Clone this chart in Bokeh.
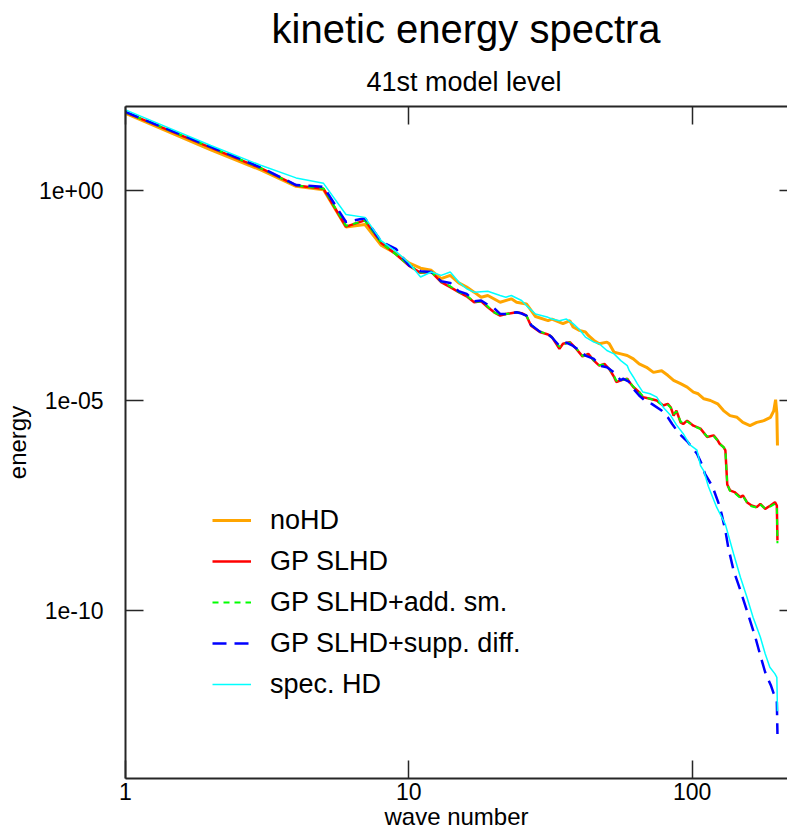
from bokeh.plotting import figure
from bokeh.models import (LogAxis, FixedTicker, CustomJSTickFormatter, Title,
                          Legend, LegendItem, Range1d)
from bokeh.embed import file_html
from bokeh.resources import INLINE

# ---------------- data (wave number, log10 of energy) ----
nohd_k = [1, 2, 3, 4, 5, 6, 7, 8, 9, 10, 11, 12, 13, 14, 15, 16, 17, 18, 19, 21,
          23, 24, 26, 28, 31, 32, 35, 37, 38, 40, 42, 43, 45, 47, 50, 51, 53, 56,
          59, 62, 65, 69, 73, 78, 82, 86, 91, 96, 101, 105, 110, 116, 123, 129,
          136, 144, 151, 160, 169, 179, 189, 194, 197, 199, 200]
nohd_log10e = [1.84, 0.97, 0.49, 0.10, 0.02, -0.87, -0.81, -1.31, -1.50, -1.72,
               -1.85, -1.90, -2.10, -2.02, -2.20, -2.30, -2.42, -2.54, -2.50,
               -2.66, -2.58, -2.66, -2.70, -3.00, -3.10, -3.06, -3.17, -3.10,
               -3.25, -3.33, -3.37, -3.45, -3.57, -3.65, -3.61, -3.65, -3.85,
               -3.89, -3.93, -4.01, -4.13, -4.21, -4.33, -4.29, -4.40, -4.52,
               -4.60, -4.68, -4.80, -4.84, -4.96, -5.00, -5.08, -5.24, -5.36,
               -5.40, -5.52, -5.60, -5.52, -5.48, -5.40, -5.25, -4.98, -5.30,
               -6.07]

slhd_k = [1, 2, 3, 4, 5, 6, 7, 8, 9, 10, 11, 12, 13, 14, 15, 16, 17, 18, 19, 20,
          21, 22, 24, 25, 26, 27, 29, 31, 32, 34, 35, 37, 39, 41, 43, 45, 47, 49,
          51, 53, 54, 56, 59, 60, 62, 65, 67, 71, 75, 79, 82, 84, 86, 88, 91, 93,
          96, 101, 107, 113, 119, 123, 125, 129, 131, 133, 136, 141, 148, 151,
          156, 162, 169, 174, 181, 189, 196, 199, 200]
slhd_log10e = [1.86, 1.02, 0.53, 0.12, 0.04, -0.86, -0.71, -1.25, -1.52, -1.79,
               -1.96, -1.94, -2.18, -2.30, -2.42, -2.52, -2.66, -2.64, -2.78,
               -2.90, -2.98, -2.94, -2.90, -2.92, -2.98, -3.22, -3.37, -3.43,
               -3.49, -3.77, -3.65, -3.61, -3.77, -3.95, -3.89, -4.05, -4.17,
               -4.13, -4.25, -4.44, -4.56, -4.52, -4.48, -4.56, -4.68, -4.80,
               -4.92, -4.96, -5.00, -5.12, -5.08, -5.16, -5.36, -5.24, -5.52,
               -5.56, -5.48, -5.60, -5.67, -5.87, -5.83, -5.95, -6.03, -6.11,
               -6.19, -7.00, -7.14, -7.18, -7.30, -7.26, -7.42, -7.50, -7.54,
               -7.46, -7.58, -7.50, -7.42, -7.50, -8.33]

addsm_k = slhd_k
addsm_log10e = [1.86, 1.03, 0.53, 0.12, 0.05, -0.84, -0.72, -1.25, -1.52, -1.78,
                -1.95, -1.94, -2.17, -2.28, -2.42, -2.50, -2.65, -2.64, -2.76,
                -2.90, -2.97, -2.94, -2.90, -2.92, -2.98, -3.20, -3.36, -3.42,
                -3.49, -3.72, -3.66, -3.62, -3.76, -3.94, -3.90, -4.05, -4.16,
                -4.14, -4.25, -4.42, -4.53, -4.52, -4.49, -4.56, -4.67, -4.80,
                -4.90, -4.96, -5.01, -5.12, -5.10, -5.17, -5.32, -5.26, -5.50,
                -5.55, -5.50, -5.60, -5.68, -5.86, -5.84, -5.95, -6.03, -6.11,
                -6.17, -7.00, -7.15, -7.20, -7.32, -7.28, -7.42, -7.52, -7.55,
                -7.48, -7.57, -7.52, -7.46, -7.52, -8.40]

suppdiff_k = [1, 2, 3, 4, 5, 6, 7, 8, 9, 10, 11, 12, 13, 14, 15, 16, 17, 18, 19,
              20, 21, 22, 24, 25, 26, 27, 29, 31, 32, 34, 36, 38, 40, 42, 45, 47,
              50, 53, 56, 57, 60, 62, 65, 69, 72, 78, 82, 85, 90, 96, 100, 104,
              108, 111, 118, 124, 127, 131, 134, 140, 148, 158, 167, 174, 181,
              190, 194, 199, 200]
suppdiff_log10e = [1.87, 1.04, 0.55, 0.13, 0.09, -0.75, -0.66, -1.22, -1.39,
                   -1.78, -1.92, -1.94, -2.16, -2.20, -2.40, -2.46, -2.64, -2.62,
                   -2.72, -2.80, -2.94, -2.94, -2.90, -2.93, -2.98, -3.20, -3.36,
                   -3.42, -3.50, -3.70, -3.62, -3.70, -3.81, -3.93, -4.01, -4.17,
                   -4.21, -4.33, -4.52, -4.48, -4.56, -4.72, -4.88, -5.04, -5.08,
                   -5.24, -5.40, -5.56, -5.79, -5.97, -6.12, -6.27, -6.51, -6.75,
                   -7.05, -7.45, -7.70, -8.10, -8.49, -9.05, -9.52, -10.12,
                   -10.63, -11.07, -11.47, -11.80, -11.98, -12.18, -12.94]

spechd_k = [1, 2, 3, 4, 5, 6, 7, 8, 9, 10, 11, 12, 13, 14, 15, 16, 17, 19, 21,
            22, 23, 25, 26, 28, 31, 32, 34, 36, 38, 40, 42, 45, 47, 50, 53, 56,
            59, 60, 62, 64, 67, 71, 75, 79, 84, 88, 93, 98, 104, 107, 110, 114,
            122, 131, 140, 148, 156, 164, 174, 181, 188, 196, 199, 200]
spechd_log10e = [1.92, 1.07, 0.60, 0.30, 0.17, -0.57, -0.64, -1.20, -1.45, -1.72,
                 -2.06, -1.94, -2.02, -1.94, -2.18, -2.34, -2.42, -2.40, -2.50,
                 -2.54, -2.50, -2.62, -2.74, -2.94, -3.02, -3.06, -3.10, -3.06,
                 -3.17, -3.31, -3.49, -3.61, -3.65, -3.81, -3.89, -4.05, -4.17,
                 -4.29, -4.44, -4.60, -4.80, -4.84, -4.92, -5.16, -5.36, -5.58,
                 -5.79, -6.05, -6.18, -6.55, -6.68, -7.04, -7.54, -7.95, -8.65,
                 -9.21, -9.68, -10.16, -10.63, -11.03, -11.35, -11.51, -11.59,
                 -12.40]

series_names = ["noHD", "GP SLHD", "GP SLHD+add. sm.", "GP SLHD+supp. diff.", "spec. HD"]

x_tick_values = [1, 10, 100]
x_tick_labels = ["1", "10", "100"]
y_tick_values = [1e-10, 1e-05, 1e+00]
y_tick_labels = ["1e-10", "1e-05", "1e+00"]

title_text = "kinetic energy spectra"
subtitle_text = "41st model level"
x_label = "wave number"
y_label = "energy"

# ---------------- figure ---------------------------------------------------
FONT = "Liberation Sans"
AX = "#262626"
X_END = 217

p = figure(width=787, height=832, x_axis_type="log", y_axis_type="log",
           x_range=Range1d(1, X_END), y_range=Range1d(1e-14, 1e2),
           output_backend="svg", toolbar_location=None,
           min_border_left=118, min_border_right=0, min_border_top=0,
           min_border_bottom=0)
p.grid.visible = False
p.outline_line_color = None
p.background_fill_color = "white"
p.border_fill_color = "white"


def energies(logs):
    return [10.0 ** v for v in logs]


r_nohd = p.line(nohd_k, energies(nohd_log10e), line_color="#FFA500", line_width=3)
r_slhd = p.line(slhd_k, energies(slhd_log10e), line_color="#FF0000", line_width=2.5)
r_add = p.line(addsm_k, energies(addsm_log10e), line_color="#00FF00", line_width=2,
               line_dash="6 5")
r_supp = p.line(suppdiff_k, energies(suppdiff_log10e), line_color="#0000FF",
                line_width=2.5, line_dash="14 8")
r_spec = p.line(spechd_k, energies(spechd_log10e), line_color="#00FFFF", line_width=1.5)

fmt_code = """
let best = 0, bd = Infinity;
for (let i = 0; i < vals.length; i++) {
  const d = Math.abs(Math.log10(tick) - Math.log10(vals[i]));
  if (d < bd) { bd = d; best = i; }
}
return labs[best];
"""
x_fmt = CustomJSTickFormatter(args=dict(vals=x_tick_values, labs=x_tick_labels), code=fmt_code)
y_fmt = CustomJSTickFormatter(args=dict(vals=y_tick_values, labs=y_tick_labels), code=fmt_code)
blank_fmt = CustomJSTickFormatter(code='return "";')


def style_axis(ax):
    ax.axis_line_color = AX
    ax.axis_line_width = 2
    ax.major_tick_line_color = AX
    ax.major_tick_line_width = 1.5
    ax.major_tick_in = 18
    ax.major_tick_out = 0
    ax.minor_tick_line_color = None
    ax.major_label_text_font = FONT
    ax.major_label_text_font_size = "23px"
    ax.major_label_text_color = "black"
    ax.axis_label_text_font = FONT
    ax.axis_label_text_font_size = "24px"
    ax.axis_label_text_font_style = "normal"
    ax.axis_label_text_color = "black"


xb = p.xaxis[0]
style_axis(xb)
xb.ticker = FixedTicker(ticks=x_tick_values)
xb.formatter = x_fmt
xb.axis_label = x_label
xb.major_label_standoff = 4
xb.axis_label_standoff = 0

yl = p.yaxis[0]
style_axis(yl)
yl.ticker = FixedTicker(ticks=y_tick_values)
yl.formatter = y_fmt
yl.axis_label = y_label
yl.major_label_standoff = 22
yl.major_label_orientation = "horizontal"
yl.axis_label_standoff = 5

xt = LogAxis(ticker=FixedTicker(ticks=x_tick_values), formatter=blank_fmt)
style_axis(xt)
xt.major_label_standoff = 0
xt.major_label_text_font_size = "0px"
p.add_layout(xt, "above")

# right-hand inward ticks (the reference's right frame line lies beyond the page)
yr = LogAxis(ticker=FixedTicker(ticks=y_tick_values), formatter=blank_fmt)
style_axis(yr)
yr.axis_line_color = None
yr.major_tick_in = 8
yr.major_tick_out = 0
yr.major_label_standoff = 0
yr.major_label_text_font_size = "0px"
p.add_layout(yr, "right")

p.add_layout(Title(text=subtitle_text, align="left", offset=241, text_font=FONT,
                   text_font_size="27px", text_font_style="normal",
                   text_color="black", standoff=20), "above")
p.add_layout(Title(text=title_text, align="left", offset=146, text_font=FONT,
                   text_font_size="40px", text_font_style="normal",
                   text_color="black", standoff=8), "above")

renderers = [r_nohd, r_slhd, r_add, r_supp, r_spec]
legend = Legend(items=[LegendItem(label=n, renderers=[r]) for n, r in zip(series_names, renderers)],
                location=(87, 78), orientation="vertical", padding=0, margin=0,
                spacing=9, label_standoff=19, glyph_width=39, glyph_height=32,
                label_height=32, label_text_font=FONT, label_text_font_size="27px",
                label_text_color="black", border_line_color=None,
                background_fill_alpha=0)
p.add_layout(legend)

open("out.html", "w").write(file_html(p, INLINE))
